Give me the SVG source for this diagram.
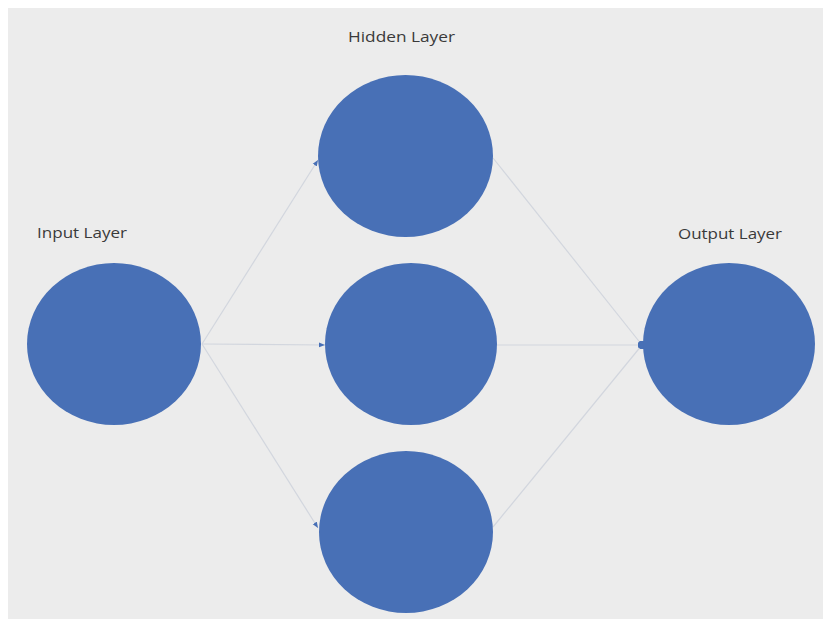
<svg xmlns="http://www.w3.org/2000/svg" width="823" height="619" viewBox="0 0 823 619">
<style>
.node{fill:#4870b6;}
.lbl{font-family:"Open Sans","Liberation Sans",sans-serif;font-size:15px;fill:#3a3a3a;}
.conn{stroke:#d2d6de;stroke-width:1.2;fill:none;}
</style>
<defs>
<marker id="arr" viewBox="0 0 10 10" refX="10" refY="5" markerWidth="6" markerHeight="6" markerUnits="userSpaceOnUse" orient="auto">
<path d="M0,1 L10,5 L0,9 z" fill="#4870b6"/>
</marker>
<marker id="dot" viewBox="0 0 10 10" refX="5" refY="5" markerWidth="8" markerHeight="8" markerUnits="userSpaceOnUse">
<circle cx="5" cy="5" r="5" fill="#4870b6"/>
</marker>
</defs>
<rect x="0" y="0" width="823" height="619" fill="#ffffff"/>
<rect x="8" y="8" width="815" height="611" fill="#ececec"/>
<g id="connectors">
<line class="conn" x1="202" y1="344" x2="318" y2="160" marker-end="url(#arr)"/>
<line class="conn" x1="202" y1="344" x2="325" y2="345" marker-end="url(#arr)"/>
<line class="conn" x1="202" y1="344" x2="318" y2="528" marker-end="url(#arr)"/>
<line class="conn" x1="493" y1="158" x2="642" y2="345" marker-end="url(#dot)"/>
<line class="conn" x1="497" y1="345" x2="642" y2="345" marker-end="url(#dot)"/>
<line class="conn" x1="493" y1="527" x2="642" y2="345" marker-end="url(#dot)"/>
</g>
<g id="input">
<ellipse class="node" cx="114" cy="344" rx="87" ry="81"/>
<text class="lbl" x="37" y="238" textLength="90" lengthAdjust="spacingAndGlyphs">Input Layer</text>
</g>
<g id="hidden1">
<ellipse class="node" cx="405.5" cy="156" rx="87.5" ry="81"/>
<text class="lbl" x="348" y="42" textLength="107" lengthAdjust="spacingAndGlyphs">Hidden Layer</text>
</g>
<g id="hidden2">
<ellipse class="node" cx="411" cy="344" rx="86" ry="81"/>
</g>
<g id="hidden3">
<ellipse class="node" cx="406" cy="532" rx="87" ry="81"/>
</g>
<g id="output">
<ellipse class="node" cx="729" cy="344" rx="86" ry="81"/>
<text class="lbl" x="678" y="239" textLength="104" lengthAdjust="spacingAndGlyphs">Output Layer</text>
</g>
</svg>
